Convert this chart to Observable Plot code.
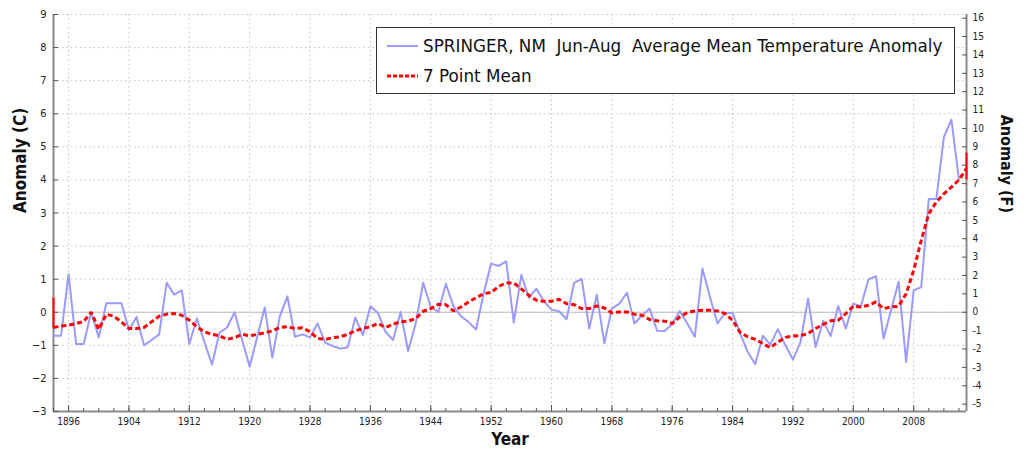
<!DOCTYPE html>
<html>
<head>
<meta charset="utf-8">
<script src="https://cdn.jsdelivr.net/npm/d3@7"></script>
<script src="https://cdn.jsdelivr.net/npm/@observablehq/plot@0.6"></script>
<style>
  html, body { margin: 0; padding: 0; background: #fff; }
  #chart { width: 1024px; height: 459px; }
</style>
</head>
<body>
<div id="chart"></div>
<script>
// ---- data ----
const firstYear = 1894;
const anomalyC = [
  -0.71, -0.71, 1.15, -0.96, -0.96, 0.0, -0.76, 0.27, 0.27, 0.27,   // 1894-1903
  -0.54, -0.14, -1.0, -0.84, -0.67, 0.89, 0.53, 0.66, -0.96, -0.19,   // 1904-1913
  -0.9, -1.58, -0.62, -0.46, 0.0, -0.84, -1.65, -0.74, 0.14, -1.37,   // 1914-1923
  -0.12, 0.48, -0.74, -0.67, -0.76, -0.34, -0.92, -1.02, -1.10, -1.06, // 1924-1933
  -0.16, -0.69, 0.18, -0.02, -0.59, -0.84, 0.01, -1.17, -0.34, 0.89,  // 1934-1943
  0.16, 0.01, 0.86, 0.18, -0.12, -0.29, -0.52, 0.56, 1.47, 1.40,      // 1944-1953
  1.54, -0.31, 1.13, 0.44, 0.71, 0.33, 0.08, 0.03, -0.21, 0.89,       // 1954-1963
  1.01, -0.49, 0.53, -0.94, 0.11, 0.26, 0.59, -0.34, -0.10, 0.11,     // 1964-1973
  -0.56, -0.57, -0.36, 0.04, -0.34, -0.74, 1.32, 0.46, -0.34, -0.02,  // 1974-1983
  -0.02, -0.64, -1.2, -1.57, -0.71, -0.98, -0.51, -1.0, -1.43, -0.9,  // 1984-1993
  0.41, -1.05, -0.26, -0.72, 0.19, -0.49, 0.26, 0.18, 0.99, 1.09,     // 1994-2003
  -0.79, 0.06, 0.92, -1.5, 0.66, 0.76, 3.42, 3.42, 5.29, 5.82,        // 2004-2013
  4.0                                                                  // 2014
];
const mean7C = [
  -0.46, -0.42, -0.39, -0.34, -0.28, 0.0, -0.52, -0.06, -0.12, -0.29, // 1894-1903
  -0.49, -0.49, -0.46, -0.29, -0.12, -0.06, -0.04, -0.09, -0.24, -0.44, // 1904-1913
  -0.59, -0.67, -0.71, -0.82, -0.77, -0.67, -0.71, -0.67, -0.62, -0.56, // 1914-1923
  -0.46, -0.44, -0.49, -0.47, -0.59, -0.79, -0.82, -0.77, -0.74, -0.67, // 1924-1933
  -0.56, -0.49, -0.44, -0.34, -0.46, -0.36, -0.29, -0.27, -0.19, 0.03,  // 1934-1943
  0.11, 0.24, 0.23, 0.04, 0.16, 0.31, 0.44, 0.56, 0.60, 0.78,           // 1944-1953
  0.89, 0.88, 0.71, 0.51, 0.36, 0.33, 0.33, 0.39, 0.26, 0.23,           // 1954-1963
  0.11, 0.11, 0.19, 0.13, -0.02, 0.01, 0.01, -0.06, -0.09, -0.22,       // 1964-1973
  -0.26, -0.27, -0.34, -0.14, -0.01, 0.04, 0.06, 0.06, 0.04, -0.04,     // 1974-1983
  -0.24, -0.61, -0.74, -0.82, -0.95, -1.07, -0.90, -0.76, -0.72, -0.71, // 1984-1993
  -0.64, -0.49, -0.37, -0.26, -0.24, -0.04, 0.18, 0.16, 0.21, 0.31,     // 1994-2003
  0.11, 0.16, 0.18, 0.56, 1.27, 2.17, 2.98, 3.33, 3.58, 3.78,           // 2004-2013
  4.0, 4.34                                                             // 2014-2015
];
// short vertical red segments at both ends of the mean line
const edgeYears = [1894, 2015];
const edgeTop = [0.43, 4.81];
const edgeBottom = [-0.49, 4.0];

const xDomain = [1894, 2015];
const yDomain = [-3, 9];
const xMajorTicks = [1896, 1904, 1912, 1920, 1928, 1936, 1944, 1952, 1960, 1968, 1976, 1984, 1992, 2000, 2008];
const yTicksC = [-3, -2, -1, 0, 1, 2, 3, 4, 5, 6, 7, 8, 9];
const yTicksF = [-5, -4, -3, -2, -1, 0, 1, 2, 3, 4, 5, 6, 7, 8, 9, 10, 11, 12, 13, 14, 15, 16];
const seriesLabel = "SPRINGER, NM  Jun-Aug  Average Mean Temperature Anomaly";
const meanLabel = "7 Point Mean";

// ---- tables built from the arrays ----
const obs = anomalyC.map((v, i) => ({year: firstYear + i, value: v}));
const mean = mean7C.map((v, i) => ({year: firstYear + i, value: v}));
const edges = edgeYears.map((y, i) => ({year: y, y1: edgeTop[i], y2: edgeBottom[i]}));
const minorTicks = d3.range(xDomain[0], xDomain[1] + 1, 2);

const FONT = "'DejaVu Sans Condensed', 'DejaVu Sans', sans-serif";
const LEGEND_FONT = "'DejaVu Sans', sans-serif";
const gridStyle = {stroke: "#c4c4c4", strokeOpacity: 1, strokeDasharray: "1.5,3"};

const chart = Plot.plot({
  width: 1024,
  height: 459,
  marginLeft: 53,
  marginRight: 58,
  marginTop: 14,
  marginBottom: 48,
  style: {fontFamily: FONT, fontSize: "11px", color: "#222", background: "#fff"},
  x: {domain: xDomain, label: null},
  y: {domain: yDomain, label: null},
  marks: [
    Plot.gridY(yTicksC, gridStyle),
    Plot.gridX(xMajorTicks, gridStyle),
    Plot.ruleY([0], {stroke: "#bdbdbd", strokeWidth: 1}),
    // axis lines
    Plot.ruleX([xDomain[0], xDomain[1]], {stroke: "#8a8a8a", strokeWidth: 2}),
    Plot.ruleY([yDomain[0]], {stroke: "#8a8a8a", strokeWidth: 2}),
    // axes
    Plot.axisY(yTicksC, {anchor: "left", tickSize: -5, tickPadding: 12, stroke: "#555", fontSize: 11, label: null}),
    Plot.axisY(yTicksF.map(f => f / 1.8), {anchor: "right", tickSize: -5, tickPadding: 11, stroke: "#555", fontSize: 10,
      tickFormat: d => String(Math.round(d * 1.8)), label: null}),
    Plot.axisX(xMajorTicks, {anchor: "bottom", tickSize: -6, tickPadding: 12, stroke: "#555", fontSize: 10,
      tickFormat: d => String(d), label: null}),
    Plot.axisX(minorTicks, {anchor: "bottom", tickSize: -3, tickFormat: () => "", stroke: "#555", label: null}),
    // data
    Plot.line(obs, {x: "year", y: "value", stroke: "#9a9aff", strokeWidth: 2}),
    Plot.ruleX(edges, {x: "year", y1: "y1", y2: "y2", stroke: "#ff0000", strokeWidth: 2}),
    Plot.line(mean, {x: "year", y: "value", stroke: "#ff0000", strokeWidth: 3, strokeDasharray: "5,3",
      strokeLinecap: "butt", strokeLinejoin: "miter"}),
    // axis titles
    Plot.text(["Anomaly (C)"], {frameAnchor: "left", dx: -33, rotate: -90, fontWeight: "bold", fontSize: 17, fill: "#111"}),
    Plot.text(["Anomaly (F)"], {frameAnchor: "right", dx: 40, rotate: 90, fontWeight: "bold", fontSize: 16, fill: "#111"}),
    Plot.text(["Year"], {frameAnchor: "bottom", dy: 33, fontWeight: "bold", fontSize: 17, fill: "#111"})
  ]
});
document.getElementById("chart").appendChild(chart);

// ---- legend box (inside the plot area, top right) ----
const svg = d3.select(chart);
const lg = svg.append("g").attr("font-family", LEGEND_FONT).attr("font-size", 16.8).attr("fill", "#111")
  .attr("text-anchor", "start");
lg.append("rect").attr("x", 376.5).attr("y", 27.5).attr("width", 578).attr("height", 66)
  .attr("fill", "#fff").attr("stroke", "#333").attr("stroke-width", 1);
const legendItems = [
  {label: seriesLabel, stroke: "#9a9aff", width: 2, dash: null},
  {label: meanLabel, stroke: "#ff0000", width: 3, dash: "4,2"}
];
legendItems.forEach((it, i) => {
  const cy = 46 + i * 30;
  lg.append("line").attr("x1", 387).attr("x2", 418).attr("y1", cy).attr("y2", cy)
    .attr("stroke", it.stroke).attr("stroke-width", it.width).attr("stroke-dasharray", it.dash)
    .attr("stroke-linecap", "butt");
  lg.append("text").attr("x", 423).attr("y", cy).attr("dy", "0.35em")
    .attr("text-anchor", "start")
    .style("white-space", "pre").text(it.label);
});
</script>
</body>
</html>
